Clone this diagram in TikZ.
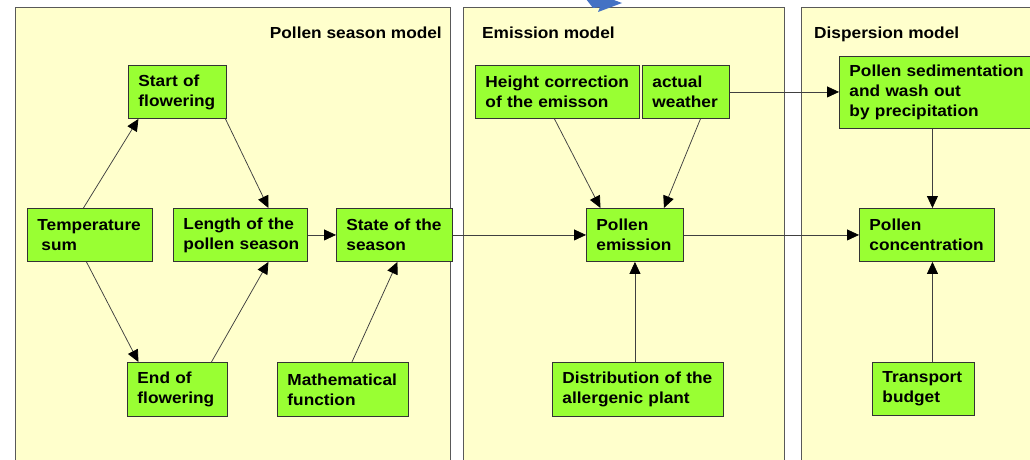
\documentclass[tikz,border=0pt]{standalone}
\usepackage{fontspec}
\setmainfont[FakeStretch=1.08]{Liberation Sans}
\usetikzlibrary{arrows.meta,calc}
\definecolor{boxgreen}{RGB}{153,255,51}
\definecolor{panelyellow}{RGB}{255,255,204}
\definecolor{arrowblue}{RGB}{68,114,196}
\hyphenpenalty=10000
\exhyphenpenalty=10000
\newcommand\mkbox[6]{%
  \pgfmathsetmacro\myBW{#4-#2}%
  \pgfmathsetmacro\myBH{#5-#3}%
  \pgfmathsetmacro\myTW{#4-#2-20}%
  \node[box, minimum width=\myBW pt, minimum height=\myBH pt, text width=\myTW pt, anchor=north west] (#1) at (#2,#3) {#6};}
\begin{document}
\begin{tikzpicture}[x=1pt,y=-1pt,
  box/.style={draw=black!80, fill=boxgreen, line width=0.9pt, inner xsep=10pt, inner ysep=0pt, align=left, font=\bfseries\fontsize{16}{20}\selectfont},
  panel/.style={draw=black!65, fill=panelyellow, line width=0.8pt},
  ptitle/.style={font=\bfseries\fontsize{16}{20}\selectfont, inner sep=0pt},
  arr/.style={draw=black!75, line width=0.75pt, -{Triangle[length=12pt,width=11pt,fill=black,color=black]}}
]
\useasboundingbox (0,0) rectangle (1030,460);
\clip (0,0) rectangle (1030,460);
\fill[white] (0,0) rectangle (1030,460);
% panels
\draw[panel] (15,7) rectangle (450,475);
\draw[panel] (463.5,7) rectangle (784.5,475);
\draw[panel] (801.5,7) rectangle (1045,475);
\node[ptitle, anchor=base east] (t1) at (442,38) {Pollen season model};
\node[ptitle, anchor=base west] (t2) at (482,38) {Emission model};
\node[ptitle, anchor=base west] (t3) at (814,38) {Dispersion model};
% blue arrow fragment
\fill[arrowblue] (586,-1) -- (604,-1) -- (603,-4) -- (622,3) -- (598,12) -- (600,7) -- (593,8) -- cycle;
% boxes
\mkbox{start}{128}{65}{226}{118}{\mbox{Start of}\\\mbox{flowering}}
\mkbox{temp}{27}{208}{152}{261}{\mbox{Temperature}\\\mbox{\hspace*{4pt}sum}}
\mkbox{length}{173}{208}{307}{261}{\mbox{Length of the}\\\mbox{pollen season}}
\mkbox{state}{336}{208}{452}{261}{\mbox{State of the}\\\mbox{season}}
\mkbox{end}{127}{362}{227}{416}{\mbox{End of}\\\mbox{flowering}}
\mkbox{math}{277}{362}{408}{416}{\mbox{Mathematical}\\\mbox{function}}
\mkbox{height}{475}{65}{639}{118}{\mbox{Height correction}\\\mbox{of the emisson}}
\mkbox{weather}{642}{65}{729}{118}{\mbox{actual}\\\mbox{weather}}
\mkbox{sedim}{839}{56}{1040}{128}{\mbox{Pollen sedimentation}\\\mbox{and wash out}\\\mbox{by precipitation}}
\mkbox{emis}{586}{208}{683}{261}{\mbox{Pollen}\\\mbox{emission}}
\mkbox{conc}{859}{208}{994}{261}{\mbox{Pollen}\\\mbox{concentration}}
\mkbox{distr}{552}{362}{723}{416}{\mbox{Distribution of the}\\\mbox{allergenic plant}}
\mkbox{transp}{872}{362}{974}{415}{\mbox{Transport}\\\mbox{budget}}
% connectors
\draw[arr] ([xshift=-6.5pt]temp.north) -- ([xshift=-39pt]start.south);
\draw[arr] ([xshift=48pt]start.south) -- ([xshift=28pt]length.north);
\draw[arr] ([xshift=-3.5pt]temp.south) -- ([xshift=-39pt]end.north);
\draw[arr] ([xshift=34pt]end.north) -- ([xshift=28pt]length.south);
\draw[arr] (length.east) -- (state.west);
\draw[arr] ([xshift=9pt]math.north) -- ([xshift=3pt]state.south);
\draw[arr] (state.east) -- (emis.west);
\draw[arr] ([xshift=-3pt]height.south) -- ([xshift=-34.5pt]emis.north);
\draw[arr] ([xshift=14.5pt]weather.south) -- ([xshift=29pt]emis.north);
\draw[arr] (emis.south |- distr.north) -- (emis.south);
\draw[arr] (emis.east) -- (conc.west);
\draw[arr] (weather.east) -- (weather.east -| sedim.west);
\draw[arr] ([xshift=5.5pt]conc.north |- sedim.south) -- ([xshift=5.5pt]conc.north);
\draw[arr] ([xshift=5.5pt]conc.south |- transp.north) -- ([xshift=5.5pt]conc.south);
\end{tikzpicture}
\end{document}
